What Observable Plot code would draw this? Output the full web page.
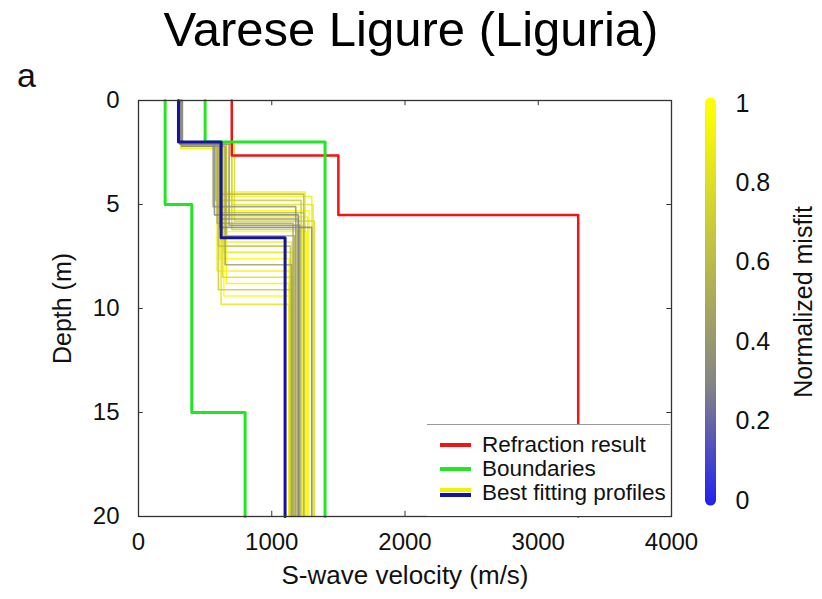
<!DOCTYPE html>
<html>
<head>
<meta charset="utf-8">
<script src="https://cdn.jsdelivr.net/npm/d3@7"></script>
<script src="https://cdn.jsdelivr.net/npm/@observablehq/plot@0.6"></script>
<style>
  html, body { margin: 0; padding: 0; background: #fff; }
  body { font-family: "Liberation Sans", Arial, sans-serif; }
  #wrap { position: relative; width: 822px; height: 599px; overflow: hidden; }
  #title { height: 62px; width: 822px; text-align: center; font-size: 49px; line-height: 62px; color: #000; position: relative; top: -2px; }
  #panel { position: absolute; left: 17px; top: 56px; font-size: 34px; color: #111; }
  #main { position: absolute; left: 0; top: 62px; }
  #cbar { position: absolute; left: 680px; top: 62px; }
  #legend { position: absolute; left: 427px; top: 424px; width: 243px; height: 91px; background: #fff; border-top: 1.5px solid #999; }
  .lg-row { position: absolute; left: 0; height: 24px; width: 243px; }
  .lg-text { position: absolute; left: 55px; top: 0; font-size: 22.5px; line-height: 24px; color: #111; white-space: nowrap; }
  .lg-sw { position: absolute; left: 13px; width: 31px; }
</style>
</head>
<body>
<div id="wrap">
  <div id="title"></div>
  <div id="panel"></div>
  <div id="main"></div>
  <div id="cbar"></div>
  <div id="legend"></div>
</div>
<script>
// ---------- data ----------
const titleText = "Varese Ligure (Liguria)";
const panelLetter = "a";
const xLabel = "S-wave velocity (m/s)";
const yLabel = "Depth (m)";
const cbarLabel = "Normalized misfit";

const velTicks = [0, 1000, 2000, 3000, 4000];
const depthTicks = [0, 5, 10, 15, 20];
const misfitTicks = [0, 0.2, 0.4, 0.6, 0.8, 1];
const maxDepth = 20;

// refraction result: layer velocities and interface depths
const refractionVs = [700, 1500, 3300];
const refractionDepths = [2.65, 5.5];
// boundaries (lower and upper)
const boundLowVs = [200, 400, 800];
const boundLowDepths = [5, 15];
const boundHighVs = [500, 1400];
const boundHighDepths = [2];
// best (minimum misfit) profile
const bestVs = [300, 620, 1100];
const bestDepths = [2, 6.6];

// best fitting profiles (3 layers each)
const fitV1 = [320, 315, 330, 310, 325, 318, 322, 312, 328, 316, 320, 326, 314, 323, 319, 311, 327, 317, 321, 313, 325, 318, 322, 316, 329, 314, 320, 324, 312, 327];
const fitD1 = [2.1, 2.0, 2.2, 2.1, 2.0, 2.3, 2.1, 2.0, 2.2, 2.1, 2.0, 2.2, 2.1, 2.0, 2.3, 2.1, 2.0, 2.2, 2.1, 2.0, 2.2, 2.1, 2.0, 2.3, 2.1, 2.0, 2.2, 2.1, 2.0, 2.2];
const fitV2 = [620, 650, 580, 700, 560, 640, 600, 680, 620, 720, 590, 650, 610, 700, 630, 660, 620, 600, 640, 610, 650, 590, 630, 660, 600, 640, 620, 680, 570, 610];
const fitD2 = [4.4, 4.6, 4.8, 5.0, 5.1, 5.3, 5.4, 5.6, 5.7, 5.8, 5.9, 6.0, 6.1, 6.2, 6.3, 6.5, 6.8, 7.0, 7.3, 7.6, 7.9, 8.2, 8.5, 8.8, 9.1, 9.4, 9.8, 6.0, 5.5, 4.5];
const fitV3 = [1250, 1300, 1220, 1310, 1180, 1280, 1240, 1270, 1200, 1320, 1160, 1230, 1300, 1190, 1260, 1170, 1150, 1140, 1160, 1130, 1150, 1140, 1160, 1130, 1150, 1140, 1130, 1210, 1200, 1240];
const fitMisfit = [0.9, 0.95, 0.7, 0.85, 0.4, 1.0, 0.6, 0.9, 0.35, 0.8, 0.5, 0.95, 0.3, 0.75, 1.0, 0.55, 0.9, 0.65, 0.85, 1.0, 0.45, 0.9, 0.8, 0.95, 0.7, 1.0, 0.85, 0.4, 0.3, 0.6];

const legendLabels = ["Refraction result", "Boundaries", "Best fitting profiles"];
const legendColors = [["#f01414"], ["#22e622"], ["#f2f200", "#14149c"]];

// ---------- build tables ----------
function stepPoints(vs, ds, extra) {
  const pts = [{v: vs[0], d: 0, ...extra}];
  for (let i = 1; i < vs.length; i++) pts.push({v: vs[i], d: ds[i - 1], ...extra});
  pts.push({v: vs[vs.length - 1], d: maxDepth, ...extra});
  return pts;
}

const fitOrder = d3.range(fitV1.length).sort((a, b) => fitMisfit[b] - fitMisfit[a]);
const fitPoints = fitOrder.flatMap(i =>
  stepPoints([fitV1[i], fitV2[i], fitV3[i]], [fitD1[i], fitD2[i]], {id: i, misfit: fitMisfit[i]}));
const refractionPts = stepPoints(refractionVs, refractionDepths, {});
const boundLowPts = stepPoints(boundLowVs, boundLowDepths, {});
const boundHighPts = stepPoints(boundHighVs, boundHighDepths, {});
const bestPts = stepPoints(bestVs, bestDepths, {});

const colorScale = {type: "linear", domain: [0, 0.3, 1], range: ["#2222f0", "#858585", "#ffff00"]};
const font = "'Liberation Sans', Arial, sans-serif";

// ---------- main chart ----------
const main = Plot.plot({
  width: 822,
  height: 537,
  marginTop: 38,
  marginBottom: 83,
  marginLeft: 138,
  marginRight: 151,
  style: {fontFamily: font, fontSize: "24px", color: "#111", background: "transparent"},
  x: {domain: [0, 4000]},
  y: {domain: [0, maxDepth], reverse: true},
  color: colorScale,
  marks: [
    Plot.line(fitPoints, {x: "v", y: "d", z: "id", stroke: "misfit", curve: "step-before", strokeWidth: 1.6, strokeOpacity: 0.85}),
    Plot.line(refractionPts, {x: "v", y: "d", curve: "step-before", stroke: "#f01414", strokeWidth: 2.5}),
    Plot.line(boundLowPts, {x: "v", y: "d", curve: "step-before", stroke: "#22e622", strokeWidth: 3}),
    Plot.line(boundHighPts, {x: "v", y: "d", curve: "step-before", stroke: "#22e622", strokeWidth: 3}),
    Plot.line(bestPts, {x: "v", y: "d", curve: "step-before", stroke: "#14149c", strokeWidth: 3}),
    Plot.frame({stroke: "#333", strokeWidth: 1.3}),
    // inward ticks
    Plot.ruleX(velTicks, {x: d => d, y1: maxDepth, y2: maxDepth - 0.25, stroke: "#333"}),
    Plot.ruleX(velTicks, {x: d => d, y1: 0, y2: 0.25, stroke: "#333"}),
    Plot.ruleY(depthTicks, {y: d => d, x1: 0, x2: 35, stroke: "#333"}),
    Plot.ruleY(depthTicks, {y: d => d, x1: 4000, x2: 3965, stroke: "#333"}),
    Plot.axisX(velTicks, {anchor: "bottom", tickSize: 0, tickPadding: 16, fontSize: 24, label: null, tickFormat: d => String(d)}),
    Plot.axisY(depthTicks, {anchor: "left", tickSize: 0, tickPadding: 19, fontSize: 24, label: null, tickFormat: d => String(d)}),
    Plot.text([xLabel], {frameAnchor: "bottom", dy: 67, text: d => d, fontSize: 26, fill: "#111", textAnchor: "middle"}),
    Plot.text([yLabel], {frameAnchor: "left", dx: -76, rotate: -90, text: d => d, fontSize: 25, fill: "#111", textAnchor: "middle"})
  ]
});
document.getElementById("main").appendChild(main);

// ---------- colorbar ----------
const cbSteps = d3.range(0, 1, 0.005);
const cbar = Plot.plot({
  width: 142,
  height: 537,
  marginTop: 41,
  marginBottom: 99,
  marginLeft: 25,
  marginRight: 107,
  style: {fontFamily: font, fontSize: "25px", color: "#111", background: "transparent"},
  x: {domain: [0, 1], axis: null},
  y: {domain: [0, 1]},
  color: colorScale,
  marks: [
    Plot.ruleX(cbSteps, {x: 0.5, y1: d => d, y2: d => Math.min(1, d + 0.006), stroke: d => d, strokeWidth: 11, strokeLinecap: "round"}),
    Plot.axisY(misfitTicks, {anchor: "right", tickSize: 0, tickPadding: 20, fontSize: 25, label: null, tickFormat: d => String(d)}),
    Plot.text([cbarLabel], {frameAnchor: "right", dx: 88, rotate: -90, text: d => d, fontSize: 25, fill: "#111", textAnchor: "middle"})
  ]
});
document.getElementById("cbar").appendChild(cbar);

// ---------- texts & legend ----------
document.getElementById("title").textContent = titleText;
document.getElementById("panel").textContent = panelLetter;
const legend = document.getElementById("legend");
legendLabels.forEach((lab, i) => {
  const row = document.createElement("div");
  row.className = "lg-row";
  row.style.top = (8 + i * 24) + "px";
  const cols = legendColors[i];
  cols.forEach((c, j) => {
    const sw = document.createElement("div");
    sw.className = "lg-sw";
    const h = cols.length > 1 ? 4 : 3.5;
    sw.style.height = h + "px";
    sw.style.top = (cols.length > 1 ? 7 + j * 5 : 10) + "px";
    sw.style.background = c;
    row.appendChild(sw);
  });
  const t = document.createElement("div");
  t.className = "lg-text";
  t.textContent = lab;
  row.appendChild(t);
  legend.appendChild(row);
});
</script>
</body>
</html>
